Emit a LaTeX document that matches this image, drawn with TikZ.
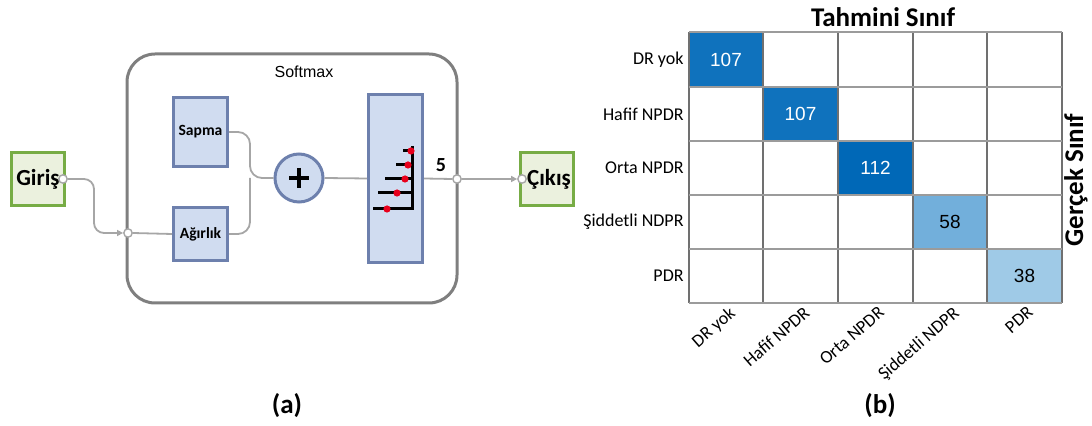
\documentclass[tikz,border=0pt]{standalone}
\usepackage{fontspec}
\setmainfont{Carlito}
\newfontfamily\arialf{Liberation Sans}
\usetikzlibrary{arrows.meta,calc}
\definecolor{gfill}{HTML}{EBF1DE}
\definecolor{gdraw}{HTML}{77AC45}
\definecolor{bfill}{HTML}{D0DCF0}
\definecolor{bdraw}{HTML}{6D80AD}
\definecolor{framec}{HTML}{7F7F7F}
\definecolor{wirec}{HTML}{A6A6A6}
\definecolor{cone}{HTML}{0F72BD}
\definecolor{ctwo}{HTML}{0068B7}
\definecolor{cthree}{HTML}{72AFDB}
\definecolor{cfour}{HTML}{9FCAE7}
\definecolor{gridc}{HTML}{707070}
\definecolor{dotred}{HTML}{E8001C}
\begin{document}
\begin{tikzpicture}[x=0.5pt,y=-0.5pt,
  iobox/.style={draw=gdraw, fill=gfill, line width=1.5pt, minimum width=26.5pt, minimum height=26.5pt, inner sep=0pt, font=\fontsize{11.5}{12}\selectfont\bfseries},
  blk/.style={draw=bdraw, fill=bfill, line width=1.5pt, inner sep=0pt, font=\fontsize{7.8}{9}\selectfont\bfseries},
  port/.style={circle, draw=wirec, fill=white, line width=0.7pt, minimum size=4.2pt, inner sep=0pt},
  wire/.style={draw=wirec, line width=0.9pt},
  tip/.style={-{Triangle[length=3pt,width=3pt]}},
  rowlab/.style={anchor=east, font=\fontsize{9}{10}\selectfont, inner sep=0pt},
  collab/.style={anchor=north east, rotate=41, font=\fontsize{9}{10}\selectfont, inner sep=0pt},
  num/.style={font=\arialf\fontsize{9.5}{11}\selectfont},
  captxt/.style={font=\fontsize{13.5}{15}\selectfont\bfseries}
]
\useasboundingbox (0,0) rectangle (1092,426);
% ---------- (a) ----------
\draw[framec, line width=1.5pt, rounded corners=14pt] (127,54) rectangle (457,303);
\node[font=\arialf\fontsize{8}{9}\selectfont] (title) at (304,72) {Softmax};
\node[iobox] (gir) at (38,179) {Giriş};
\node[iobox] (cik) at (547,179) {\hspace*{2pt}Çıkış};
\node[blk, minimum width=27pt, minimum height=34.5pt] (sap) at (200.5,132) {Sapma};
\node[blk, minimum width=27pt, minimum height=26.5pt] (agr) at (200.5,234) {Ağırlık};
\node[circle, draw=bdraw, fill=bfill, line width=1.5pt, minimum size=24pt, inner sep=0pt] (plus) at (299,178) {};
\draw[line width=1.6pt] ($(plus)+(-10,0)$) -- ($(plus)+(10,0)$) ($(plus)+(0,-10)$) -- ($(plus)+(0,10)$);
\node[draw=bdraw, fill=bfill, line width=1.5pt, minimum width=27pt, minimum height=84pt, inner sep=0pt] (soft) at (395.5,178.5) {};
% stem icon
\draw[line width=1.5pt] (412,146) -- (412,210)
  (403,151) -- (412,151) (396,165) -- (412,165) (385,179) -- (412,179)
  (378,193) -- (412,193) (373,209) -- (412,209);
\fill[dotred] (411,151) circle (1.8pt) (408,165) circle (1.8pt) (405,179) circle (1.8pt) (397,193) circle (1.8pt) (387,209) circle (1.8pt);
\node[font=\fontsize{10}{11}\selectfont\bfseries] (five) at (441,165) {5};
% ports
\node[port] (pg) at (63,179) {};
\node[port] (pa) at (128,233) {};
\node[port] (pb) at (457,179) {};
\node[port] (pc) at (522,179) {};
\coordinate (b1) at (94,205);
\coordinate (m) at (250,178);
% wires
\draw[wire, rounded corners=5pt, tip] (pg.east) -| (b1) |- (pa.west);
\draw[wire] (pa.east) -- (agr.west);
\draw[wire, rounded corners=6pt] (sap.east) -| (m) -- (plus.west);
\draw[wire, rounded corners=6pt] (agr.east) -| (m);
\draw[wire] (plus.east) -- (soft.west);
\draw[wire] (soft.east) -- (pb.west);
\draw[wire, tip] (pb.east) -- (pc.west);
\node[captxt] (la) at (287,406) {(a)};
% ---------- (b) ----------
\fill[cone] (689,32) rectangle (763,87);
\fill[cone] (763,87) rectangle (838,141);
\fill[ctwo] (838,141) rectangle (913,195);
\fill[cthree] (913,195) rectangle (987,249);
\fill[cfour] (987,249) rectangle (1062,303);
\foreach \x in {689,763,838,913,987,1062} \draw[gridc, line width=0.6pt] (\x,32) -- (\x,303);
\foreach \y in {32,87,141,195,249,303} \draw[gridc!70, line width=0.6pt] (689,\y) -- (1062,\y);
\node[num, text=white] (n1) at (726,60) {107};
\node[num, text=white] (n2) at (800.5,114) {107};
\node[num, text=white] (n3) at (875.5,168) {112};
\node[num] (n4) at (950,222) {58};
\node[num] (n5) at (1024.5,276) {38};
\node[rowlab] (r1) at (684,60) {DR yok};
\node[rowlab] (r2) at (684,114) {Hafif NPDR};
\node[rowlab] (r3) at (684,168) {Orta NPDR};
\node[rowlab] (r4) at (684,222) {Şiddetli NDPR};
\node[rowlab] (r5) at (684,276) {PDR};
\node[collab] (k1) at (728,305) {DR yok};
\node[collab] (k2) at (802.5,305) {Hafif NPDR};
\node[collab] (k3) at (877.5,305) {Orta NPDR};
\node[collab] (k4) at (952,305) {Şiddetli NDPR};
\node[collab] (k5) at (1026.5,305) {PDR};
\node[captxt] (tt) at (883,17) {Tahmini Sınıf};
\node[captxt, rotate=90] (gt) at (1076,180) {Gerçek Sınıf};
\node[captxt] (lb) at (880,406) {(b)};
\end{tikzpicture}
\end{document}
